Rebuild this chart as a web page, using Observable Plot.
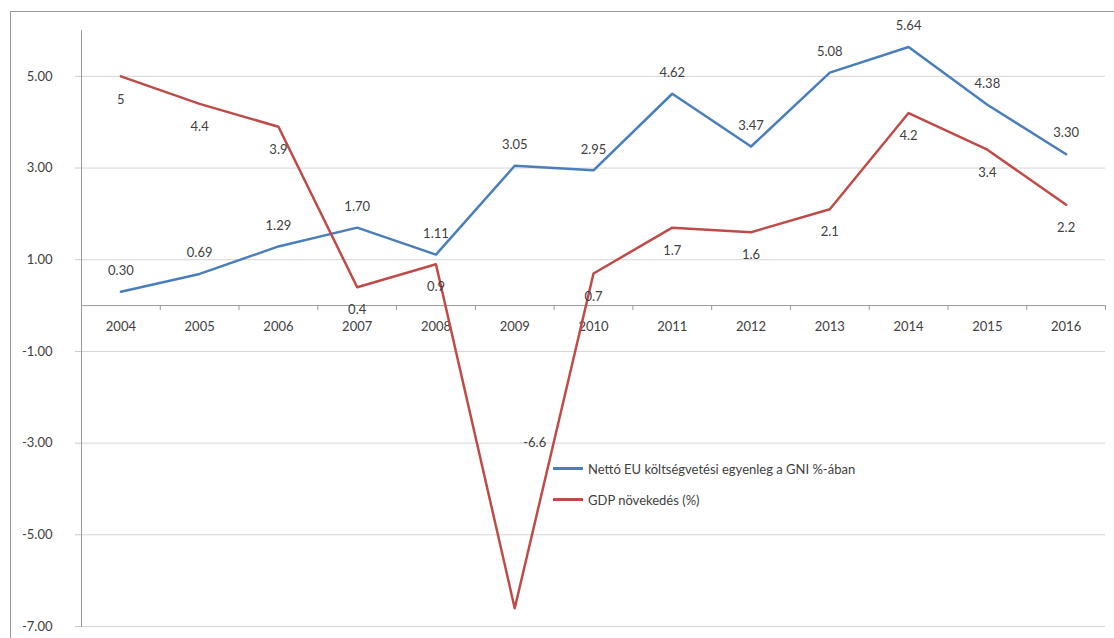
<!DOCTYPE html>
<html><head><meta charset="utf-8">
<script src="https://cdn.jsdelivr.net/npm/d3@7"></script>
<script src="https://cdn.jsdelivr.net/npm/@observablehq/plot@0.6"></script>
<style>
body{margin:0;background:#fff;}
#wrap{position:relative;width:1114px;height:638px;font-family:Lato,"Open Sans",sans-serif;}
#frame{position:absolute;left:10px;top:11px;right:0;bottom:0;border-left:1px solid #9a9a9a;border-top:1px solid #9a9a9a;pointer-events:none}
#legend{position:absolute;left:553px;top:453px;font-size:13px;color:#404040}
.item{display:flex;align-items:center;height:31px;white-space:nowrap}
.sw{width:30px;height:3px;margin-right:5px}
svg{display:block}
</style></head><body>
<div id="wrap"><div id="chart"></div><div id="frame"></div><div id="legend"></div></div>
<script>
const years = [2004,2005,2006,2007,2008,2009,2010,2011,2012,2013,2014,2015,2016];
const netEU = [0.30,0.69,1.29,1.70,1.11,3.05,2.95,4.62,3.47,5.08,5.64,4.38,3.30];
const gdp = [5,4.4,3.9,0.4,0.9,-6.6,0.7,1.7,1.6,2.1,4.2,3.4,2.2];
const yTicks = [-7,-5,-3,-1,1,3,5];
const seriesNames = ["Nettó EU költségvetési egyenleg a GNI %-ában","GDP növekedés (%)"];
const seriesColors = ["#4A7EBB","#BE4B48"];

const rowsEU = years.map((y,i)=>({year:y, value:netEU[i], series:seriesNames[0]}));
const rowsGDP = years.map((y,i)=>({year:y, value:gdp[i], series:seriesNames[1]}));
const boundaries = years.map(y=>y-0.5).concat([years[years.length-1]+0.5]);
const xDomain = [years[0]-0.5, years[years.length-1]+0.5];
const yDomain = [d3.min(yTicks), 6];

const txt = "#404040";
const chart = Plot.plot({
  width:1114, height:638,
  marginLeft:81, marginRight:9, marginTop:30, marginBottom:12,
  style:{fontFamily:"Lato, 'Open Sans', sans-serif", fontSize:"13px", background:"transparent"},
  x:{domain:xDomain, axis:null},
  y:{domain:yDomain, axis:null},
  color:{domain:seriesNames, range:seriesColors},
  marks:[
    Plot.gridY(yTicks, {stroke:"#d4d4d4", strokeOpacity:1}),
    Plot.axisY(yTicks, {label:null, tickSize:6, tickPadding:23, tickFormat:d=>d.toFixed(2), stroke:"#c8c8c8", fill:txt, fontSize:13}),
    Plot.frame({anchor:"left", stroke:"#9a9a9a"}),
    Plot.ruleY([0], {stroke:"#9a9a9a"}),
    Plot.ruleX(boundaries, {y1:0, y2:0, insetBottom:-5, stroke:"#9a9a9a"}),
    Plot.text(years, {x:d=>d, y:0, dy:21, text:d=>String(d), fill:txt, fontSize:13}),
    Plot.line(rowsEU, {x:"year", y:"value", stroke:"series", strokeWidth:2.5}),
    Plot.line(rowsGDP, {x:"year", y:"value", stroke:"series", strokeWidth:2.5}),
    Plot.text(rowsEU, {x:"year", y:"value", dy:-21, text:d=>d.value.toFixed(2), fill:txt, fontSize:13}),
    Plot.text(rowsGDP.filter(d=>d.value>=0), {x:"year", y:"value", dy:23, text:d=>String(d.value), fill:txt, fontSize:13}),
    Plot.text(rowsGDP.filter(d=>d.value<0), {x:"year", y:"value", dx:20, dy:-165, text:d=>String(d.value), fill:txt, fontSize:13})
  ]
});
document.getElementById("chart").appendChild(chart);

const lg = document.getElementById("legend");
seriesNames.forEach((n,i)=>{
  const it = document.createElement("div"); it.className="item";
  const sw = document.createElement("span"); sw.className="sw"; sw.style.background=seriesColors[i];
  const t = document.createElement("span"); t.textContent=n;
  it.appendChild(sw); it.appendChild(t); lg.appendChild(it);
});
</script>
</body></html>
